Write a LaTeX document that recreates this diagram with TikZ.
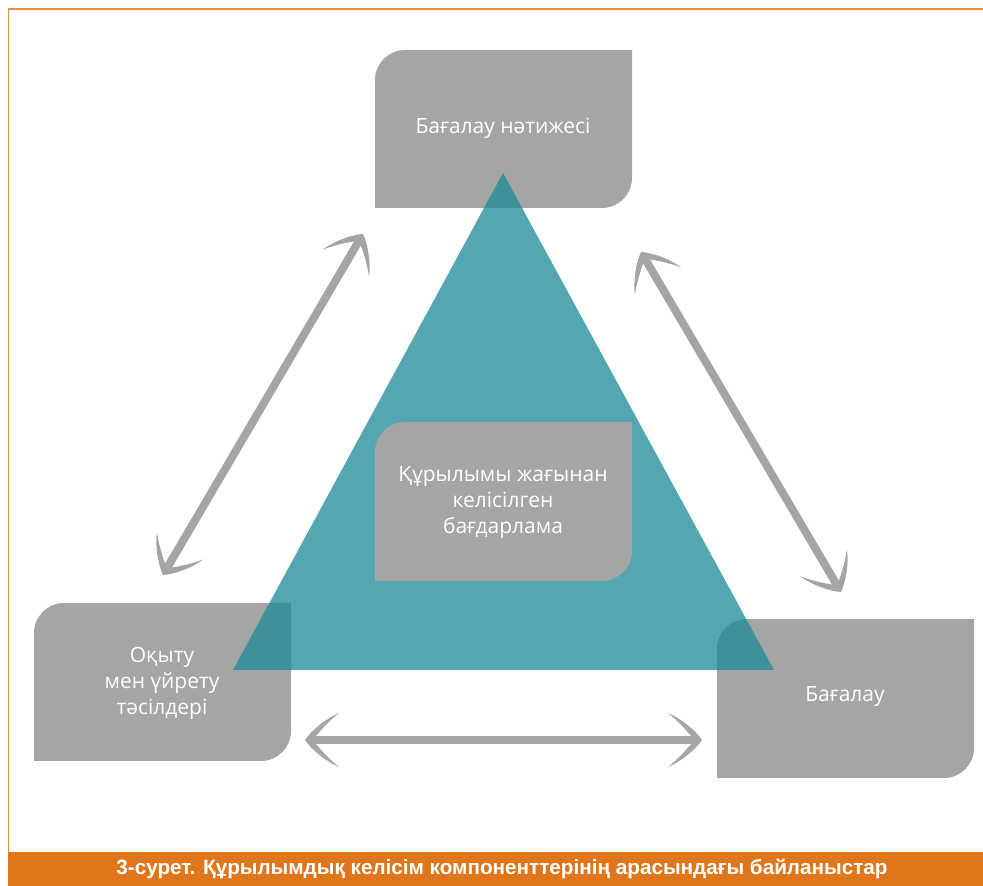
\documentclass[tikz,border=0pt]{standalone}
\usepackage{fontspec}
\setmainfont{Open Sans}
\newfontfamily\captionfont{Liberation Sans}

\definecolor{boxgray}{HTML}{A5A5A5}
\definecolor{triteal}{RGB}{30,139,153}
\definecolor{barorange}{HTML}{E0761C}
\definecolor{lineorange}{HTML}{EE8B3C}

\pgfdeclarearrow{
  name = Swept,
  setup code = {
    \pgfarrowssettipend{1pt}
    \pgfarrowssetlineend{-8pt}
    \pgfarrowssetvisualbackend{-33pt}
    \pgfarrowssetbackend{-33pt}
    \pgfarrowshullpoint{1pt}{0pt}
    \pgfarrowsupperhullpoint{-33pt}{27pt}
  },
  drawing code = {
    \pgfpathmoveto{\pgfqpoint{1pt}{0pt}}
    \pgfpathcurveto{\pgfqpoint{-5pt}{9pt}}{\pgfqpoint{-19pt}{21pt}}{\pgfqpoint{-33pt}{27pt}}
    \pgfpathcurveto{\pgfqpoint{-23pt}{19pt}}{\pgfqpoint{-15pt}{10pt}}{\pgfqpoint{-10pt}{4pt}}
    \pgfpathlineto{\pgfqpoint{-10pt}{-4pt}}
    \pgfpathcurveto{\pgfqpoint{-15pt}{-10pt}}{\pgfqpoint{-23pt}{-19pt}}{\pgfqpoint{-33pt}{-27pt}}
    \pgfpathcurveto{\pgfqpoint{-19pt}{-21pt}}{\pgfqpoint{-5pt}{-9pt}}{\pgfqpoint{1pt}{0pt}}
    \pgfpathclose
    \pgfusepathqfill
  }
}

\begin{document}
\begin{tikzpicture}[x=1pt, y=1pt,
    gbox/.style={fill=boxgray},
    boxtext/.style={text=white, align=center, inner sep=0pt,
        font=\fontsize{21}{26}\selectfont},
    twoway/.style={draw=boxgray, fill=boxgray, line width=8pt, Swept-Swept}]
    \useasboundingbox (0,0) rectangle (983,886);

    % frame and caption bar
    \fill[barorange] (8,0) rectangle (983,34);
    \draw[lineorange, line width=1.5pt] (8.5,34) -- (8.5,877) -- (983,877);
    \node[text=white, font=\captionfont\bfseries\fontsize{20.7}{24}\selectfont] (caption) at (502,17)
        {3-сурет. Құрылымдық келісім компоненттерінің арасындағы байланыстар};

    % outer boxes
    \fill[gbox] (375,678) -- (375,806) arc[start angle=180, end angle=90, radius=30]
        -- (632,836) -- (632,708) arc[start angle=0, end angle=-90, radius=30] -- cycle;
    \fill[gbox] (34,125) -- (34,253) arc[start angle=180, end angle=90, radius=30]
        -- (291,283) -- (291,155) arc[start angle=0, end angle=-90, radius=30] -- cycle;
    \fill[gbox] (717,108) -- (717,237) arc[start angle=180, end angle=90, radius=30]
        -- (974,267) -- (974,138) arc[start angle=0, end angle=-90, radius=30] -- cycle;

    % triangle
    \fill[triteal, opacity=0.76] (233,216) -- (503,713) -- (774,216) -- cycle;

    % centre box
    \fill[gbox] (375,305) -- (375,434) arc[start angle=180, end angle=90, radius=30]
        -- (632,464) -- (632,335) arc[start angle=0, end angle=-90, radius=30] -- cycle;

    \node[boxtext] (result) at (503,758) {Бағалау нәтижесі};
    \node[boxtext] (program) at (503,383) {Құрылымы жағынан\\келісілген\\бағдарлама};
    \node[boxtext] (methods) at (162,203) {Оқыту\\мен үйрету\\тәсілдері};
    \node[boxtext] (assess) at (845,189) {Бағалау};

    % arrows
    \coordinate (left1) at (163,311);
    \coordinate (left2) at (363,652);
    \coordinate (right1) at (641,634);
    \coordinate (right2) at (841,294);
    \coordinate (low1) at (305,146);
    \coordinate (low2) at (702,146);
    \draw[twoway] (left1) -- (left2);
    \draw[twoway] (right1) -- (right2);
    \draw[twoway] (low1) -- (low2);
\end{tikzpicture}
\end{document}
